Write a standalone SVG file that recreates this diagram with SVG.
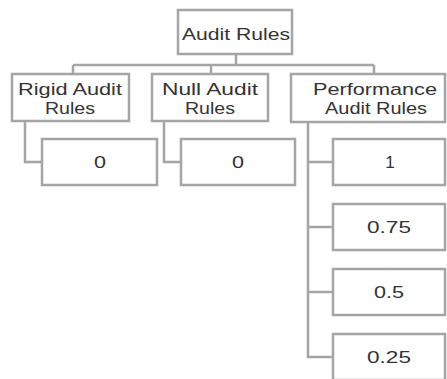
<svg xmlns="http://www.w3.org/2000/svg" width="447" height="379" viewBox="0 0 447 379">
<style>
.box{fill:#fff;stroke:#a5a5a5;stroke-width:2.5}
.ln{fill:none;stroke:#a5a5a5;stroke-width:2.5}
text{font-family:"Liberation Sans",Arial,sans-serif;font-size:17px;fill:#333;text-anchor:middle}
</style>
<rect width="447" height="379" fill="#fff"/>
<g id="connectors">
<path class="ln" d="M236,54V65M73,65H374M73,65V74M211,65V74M374,65V74"/>
<path class="ln" d="M25,121V162H42"/>
<path class="ln" d="M164,121V162H181"/>
<path class="ln" d="M308,122V357H333M308,162H333M308,227H333M308,292H333"/>
</g>
<g id="root"><rect class="box" x="178" y="10" width="114" height="44"/><text x="236" y="40" textLength="108" lengthAdjust="spacingAndGlyphs">Audit Rules</text></g>
<g id="rigid"><rect class="box" x="12" y="74" width="117" height="47"/><text x="70" y="95" textLength="104" lengthAdjust="spacingAndGlyphs">Rigid Audit</text><text x="70" y="114" textLength="50" lengthAdjust="spacingAndGlyphs">Rules</text></g>
<g id="null"><rect class="box" x="152" y="74" width="116" height="47"/><text x="210" y="95" textLength="96" lengthAdjust="spacingAndGlyphs">Null Audit</text><text x="210" y="114" textLength="50" lengthAdjust="spacingAndGlyphs">Rules</text></g>
<g id="performance"><rect class="box" x="291" y="74" width="154" height="48"/><text x="375" y="95" textLength="124" lengthAdjust="spacingAndGlyphs">Performance</text><text x="376" y="114" textLength="102" lengthAdjust="spacingAndGlyphs">Audit Rules</text></g>
<g id="rigid-0"><rect class="box" x="42" y="139" width="115" height="46"/><text x="100" y="168" textLength="12" lengthAdjust="spacingAndGlyphs">0</text></g>
<g id="null-0"><rect class="box" x="181" y="139" width="114" height="46"/><text x="238" y="168" textLength="12" lengthAdjust="spacingAndGlyphs">0</text></g>
<g id="perf-1"><rect class="box" x="333" y="139" width="112" height="46"/><text x="390" y="168">1</text></g>
<g id="perf-075"><rect class="box" x="333" y="204" width="112" height="46"/><text x="389" y="233" textLength="44" lengthAdjust="spacingAndGlyphs">0.75</text></g>
<g id="perf-05"><rect class="box" x="333" y="269" width="112" height="46"/><text x="389" y="298" textLength="30" lengthAdjust="spacingAndGlyphs">0.5</text></g>
<g id="perf-025"><rect class="box" x="333" y="334" width="112" height="46"/><text x="389" y="363" textLength="44" lengthAdjust="spacingAndGlyphs">0.25</text></g>
</svg>
